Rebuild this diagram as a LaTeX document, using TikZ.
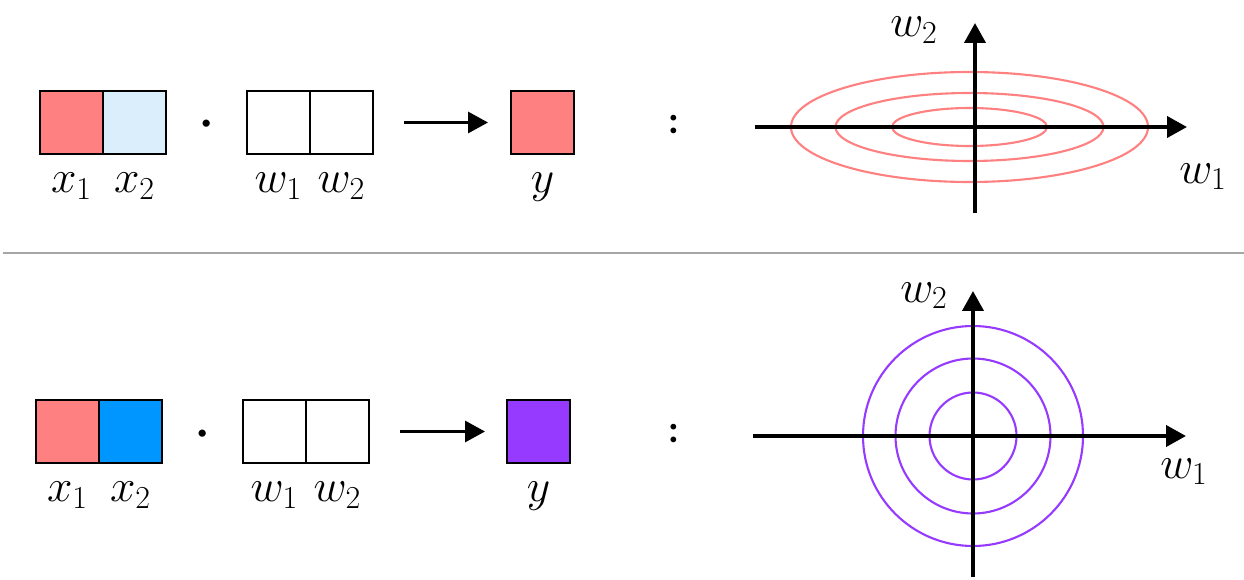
\RequirePackage{fix-cm}
\documentclass[tikz,border=0pt]{standalone}
\usepackage{fontspec}
\newfontfamily\dotfont{Carlito}
\usetikzlibrary{positioning, arrows.meta}
\definecolor{salmon}{RGB}{255,128,128}
\definecolor{paleblue}{RGB}{218,238,251}
\definecolor{vivblue}{RGB}{0,150,255}
\definecolor{vivpurple}{RGB}{150,58,255}
\tikzset{x=0.02cm, y=0.02cm, % one unit is one pixel of the picture
>={Triangle[length=0.4cm, width=0.42cm]}, % filled arrow heads
cell/.style={draw, line width=1.1pt, minimum size=1.26cm, inner sep=0pt, outer sep=0pt}, % one square of a vector
lbl/.style={anchor=base, inner sep=0pt, font=\fontsize{26}{30}\selectfont}, % text under a square
sym/.style={inner sep=0pt, font=\dotfont\bfseries\fontsize{22}{26}\selectfont}, % dot and colon
flow/.style={->, line width=1.8pt}, % arrow between squares
axis/.style={->, line width=2.2pt}, % axes of the plots
contour/.style={draw=#1, line width=1.2pt}, % level lines
}

\begin{document}
\begin{tikzpicture}
  \useasboundingbox (0,0) rectangle (1244,579);

  % top row
  \node[cell, fill=salmon, anchor=west] (tx1) at (40,456.5) {};
  \node[cell, fill=paleblue, right=0pt of tx1] (tx2) {};
  \node[sym, anchor=base] (tdot) at (207,444) {·};
  \node[cell, anchor=west] (tw1) at (247,456.5) {};
  \node[cell, right=0pt of tw1] (tw2) {};
  \node[cell, fill=salmon, anchor=west] (ty) at (511,456.5) {};
  \node[sym] (tcol) at (674,454) {:};

  \node[lbl, below=0.78cm of tx1, anchor=base] (ltx1) {$x_1$};
  \node[lbl, below=0.78cm of tx2, anchor=base] (ltx2) {$x_2$};
  \node[lbl, below=0.78cm of tw1, anchor=base] (ltw1) {$w_1$};
  \node[lbl, below=0.78cm of tw2, anchor=base] (ltw2) {$w_2$};
  \node[lbl, below=0.78cm of ty, anchor=base] (lty) {$y$};

  \draw[flow, shorten <=0.62cm, shorten >=0.46cm] (tw2) -- (ty);

  % top plot
  \foreach \a/\b in {178.5/55, 134/34, 77.5/19}
    \draw[contour=salmon] (969.5,452) ellipse [x radius=\a, y radius=\b];
  \draw[axis] (755,452) -- (1187,452);
  \draw[axis] (975,366) -- (975,556);
  \node[lbl] (tlw2) at (914,542) {$w_2$};
  \node[lbl] (tlw1) at (1203,396) {$w_1$};

  % separator
  \draw[line width=0.8pt, black!35] (3,326) -- (1244,326);

  % bottom row
  \node[cell, fill=salmon, anchor=west] (bx1) at (36,147.5) {};
  \node[cell, fill=vivblue, right=0pt of bx1] (bx2) {};
  \node[sym, anchor=base] (bdot) at (203,135) {·};
  \node[cell, anchor=west] (bw1) at (243,147.5) {};
  \node[cell, right=0pt of bw1] (bw2) {};
  \node[cell, fill=vivpurple, anchor=west] (by) at (507,147.5) {};
  \node[sym] (bcol) at (674,145) {:};

  \node[lbl, below=0.78cm of bx1, anchor=base] (lbx1) {$x_1$};
  \node[lbl, below=0.78cm of bx2, anchor=base] (lbx2) {$x_2$};
  \node[lbl, below=0.78cm of bw1, anchor=base] (lbw1) {$w_1$};
  \node[lbl, below=0.78cm of bw2, anchor=base] (lbw2) {$w_2$};
  \node[lbl, below=0.78cm of by, anchor=base] (lby) {$y$};

  \draw[flow, shorten <=0.62cm, shorten >=0.44cm] (bw2) -- (by);

  % bottom plot
  \foreach \r in {110, 77.5, 43.5}
    \draw[contour=vivpurple] (973,143) circle [radius=\r];
  \draw[axis] (753,143) -- (1186,143);
  \draw[axis] (973,2) -- (973,288);
  \node[lbl] (blw2) at (924,277) {$w_2$};
  \node[lbl] (blw1) at (1184,101) {$w_1$};

\end{tikzpicture}
\end{document}
